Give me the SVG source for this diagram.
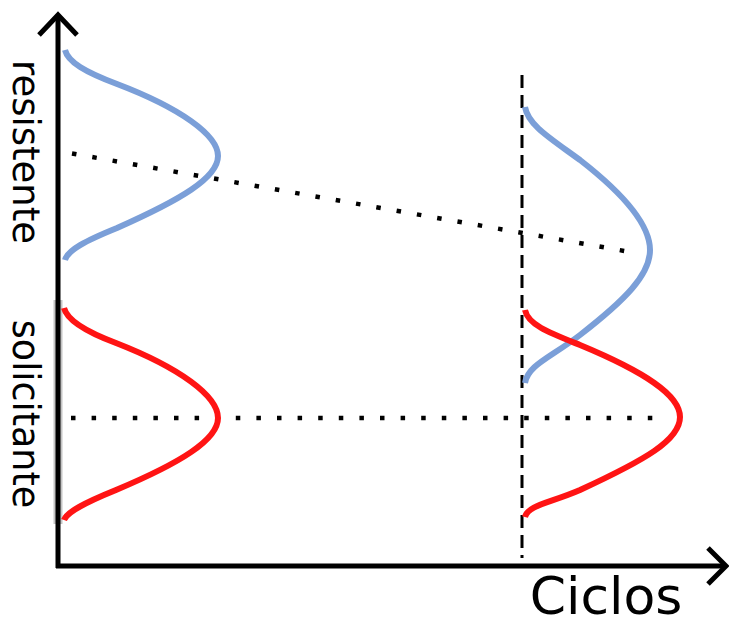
<svg xmlns="http://www.w3.org/2000/svg" width="729" height="626" viewBox="0 0 729 626">
<style>
.axis{fill:none;stroke:#000;stroke-width:5}
.head{fill:none;stroke:#000;stroke-width:5;stroke-linejoin:miter;stroke-linecap:butt}
.blue{fill:none;stroke:#7B9FD8;stroke-width:6}
.red{fill:none;stroke:#FF1414;stroke-width:6}
.dot{fill:none;stroke:#000;stroke-width:4.5;stroke-dasharray:4.5 16.1}
.dash{fill:none;stroke:#000;stroke-width:3;stroke-dasharray:13 7}
.lbl{font-family:"DejaVu Sans",Verdana,sans-serif;fill:#000}
</style>
<rect width="729" height="626" fill="#fff"/>
<g id="axes">
<line x1="58" y1="300" x2="58" y2="524" stroke="#c4c4c4" stroke-width="9"/>
<path class="axis" d="M58,16 V568 M56,566 H724"/>
<path class="head" d="M39,35 L58,15 L77,35"/>
<path class="head" d="M708,548 L726,566 L708,584"/>
</g>
<g id="connectors">
<line class="dot" x1="72" y1="153.5" x2="636" y2="253"/>
<line class="dot" x1="71" y1="418" x2="665" y2="418"/>
<line class="dash" x1="522" y1="75" x2="522" y2="558"/>
</g>
<g id="resistente-left">
<path class="blue" d="M65,50 C68,62 85,72 117,84 C180,108 218,135 218,156 C218,178 180,200 117,228 C85,241 68,250 65,260"/>
</g>
<g id="solicitante-left">
<path class="red" d="M64,308 C67,320 84,331 116,343 C180,368 218,396 218,418 C218,440 180,463 116,490 C84,503 67,512 64,520"/>
</g>
<g id="resistente-right">
<path class="blue" d="M525,107 C528,125 550,138 580,160 C625,195 650,225 650,250 C650,275 625,300 580,335 C550,358 528,365 525,383"/>
</g>
<g id="solicitante-right">
<path class="red" d="M525,310 C528,325 550,333 580,345 C645,372 680,395 680,417 C680,440 645,460 580,490 C550,503 528,505 525,517"/>
</g>
<g id="labels">
<text class="lbl" font-size="37" text-anchor="middle" transform="translate(13,152) rotate(90)">resistente</text>
<text class="lbl" font-size="36.5" text-anchor="middle" transform="translate(13,414) rotate(90)">solicitante</text>
<text class="lbl" font-size="52" text-anchor="middle" x="606" y="614">Ciclos</text>
</g>
</svg>
